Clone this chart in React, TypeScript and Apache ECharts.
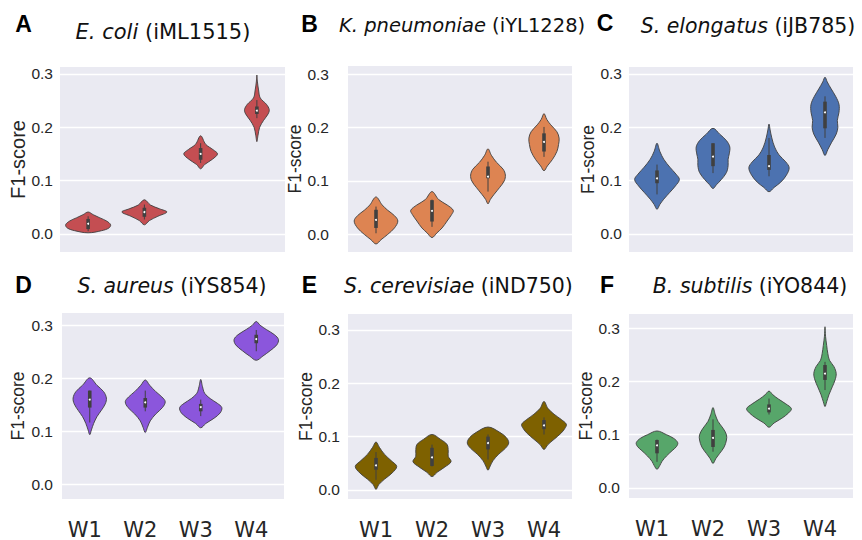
import React, { useEffect, useRef } from "react";
import * as echarts from "echarts";

const categories = ["W1", "W2", "W3", "W4"];

// Violin outlines per category: [F1-score value, half-width as fraction of category band]
const ecoliShapes = [
  [[0.002, 0], [0.006, 0.24], [0.011, 0.37], [0.017, 0.4], [0.024, 0.33], [0.03, 0.21], [0.036, 0.09], [0.041, 0]],
  [[0.017, 0], [0.025, 0.09], [0.033, 0.24], [0.041, 0.4], [0.047, 0.27], [0.054, 0.11], [0.064, 0]],
  [[0.122, 0], [0.13, 0.07], [0.14, 0.21], [0.15, 0.3], [0.158, 0.22], [0.168, 0.09], [0.184, 0]],
  [[0.173, 0], [0.185, 0.02], [0.2, 0.05], [0.213, 0.12], [0.225, 0.2], [0.233, 0.22], [0.243, 0.17], [0.255, 0.06], [0.27, 0.03], [0.285, 0.01], [0.298, 0]],
];
// Inner boxes: [whisker low, q1, median, q3, whisker high]
const ecoliBoxes = [
  [0.005, 0.009, 0.019, 0.028, 0.033],
  [0.027, 0.032, 0.041, 0.049, 0.055],
  [0.133, 0.139, 0.15, 0.161, 0.17],
  [0.217, 0.225, 0.231, 0.239, 0.251],
];

const kpneuShapes = [
  [[-0.018, 0], [-0.01, 0.09], [0.0, 0.21], [0.012, 0.33], [0.025, 0.39], [0.035, 0.33], [0.045, 0.21], [0.055, 0.11], [0.07, 0]],
  [[-0.006, 0], [0.003, 0.09], [0.012, 0.18], [0.025, 0.27], [0.037, 0.35], [0.045, 0.38], [0.055, 0.27], [0.065, 0.12], [0.08, 0]],
  [[0.057, 0], [0.065, 0.04], [0.075, 0.11], [0.088, 0.21], [0.1, 0.29], [0.111, 0.31], [0.122, 0.27], [0.135, 0.15], [0.148, 0.06], [0.16, 0]],
  [[0.119, 0], [0.128, 0.06], [0.14, 0.15], [0.155, 0.23], [0.168, 0.26], [0.18, 0.27], [0.192, 0.23], [0.205, 0.12], [0.215, 0.05], [0.226, 0]],
];
const kpneuBoxes = [
  [0.002, 0.012, 0.027, 0.046, 0.052],
  [0.014, 0.024, 0.044, 0.064, 0.065],
  [0.08, 0.105, 0.108, 0.127, 0.136],
  [0.145, 0.155, 0.173, 0.189, 0.201],
];

const selongShapes = [
  [[0.046, 0], [0.055, 0.05], [0.065, 0.12], [0.078, 0.23], [0.09, 0.33], [0.102, 0.4], [0.112, 0.34], [0.125, 0.23], [0.14, 0.12], [0.155, 0.05], [0.17, 0]],
  [[0.085, 0], [0.092, 0.06], [0.102, 0.15], [0.115, 0.24], [0.128, 0.27], [0.14, 0.27], [0.15, 0.29], [0.163, 0.3], [0.175, 0.24], [0.187, 0.12], [0.198, 0]],
  [[0.079, 0], [0.087, 0.09], [0.097, 0.21], [0.11, 0.31], [0.124, 0.36], [0.135, 0.3], [0.148, 0.18], [0.163, 0.1], [0.18, 0.05], [0.195, 0.02], [0.206, 0]],
  [[0.147, 0], [0.158, 0.05], [0.172, 0.12], [0.187, 0.2], [0.2, 0.23], [0.213, 0.22], [0.228, 0.25], [0.243, 0.25], [0.258, 0.19], [0.272, 0.11], [0.285, 0.04], [0.294, 0]],
];
const selongBoxes = [
  [0.074, 0.095, 0.104, 0.119, 0.13],
  [0.114, 0.127, 0.145, 0.17, 0.17],
  [0.108, 0.12, 0.127, 0.148, 0.18],
  [0.18, 0.198, 0.228, 0.248, 0.258],
];

const saureusShapes = [
  [[0.094, 0], [0.103, 0.03], [0.115, 0.07], [0.128, 0.13], [0.14, 0.21], [0.152, 0.28], [0.163, 0.3], [0.175, 0.25], [0.187, 0.13], [0.201, 0]],
  [[0.098, 0], [0.108, 0.04], [0.12, 0.09], [0.133, 0.19], [0.145, 0.31], [0.156, 0.36], [0.165, 0.3], [0.175, 0.19], [0.187, 0.08], [0.197, 0]],
  [[0.107, 0], [0.115, 0.09], [0.125, 0.24], [0.135, 0.35], [0.145, 0.38], [0.153, 0.3], [0.162, 0.17], [0.172, 0.07], [0.185, 0.03], [0.198, 0]],
  [[0.234, 0], [0.242, 0.12], [0.252, 0.25], [0.263, 0.37], [0.273, 0.4], [0.282, 0.33], [0.292, 0.18], [0.3, 0.07], [0.307, 0]],
];
const saureusBoxes = [
  [0.117, 0.145, 0.16, 0.177, 0.177],
  [0.138, 0.145, 0.155, 0.163, 0.177],
  [0.129, 0.138, 0.146, 0.152, 0.16],
  [0.251, 0.266, 0.274, 0.282, 0.291],
];

const scerevShapes = [
  [[0.001, 0], [0.01, 0.05], [0.02, 0.15], [0.032, 0.29], [0.044, 0.37], [0.055, 0.27], [0.067, 0.15], [0.08, 0.06], [0.09, 0]],
  [[0.025, 0], [0.033, 0.09], [0.043, 0.23], [0.053, 0.34], [0.063, 0.29], [0.073, 0.29], [0.085, 0.27], [0.095, 0.15], [0.104, 0]],
  [[0.037, 0], [0.045, 0.04], [0.055, 0.09], [0.067, 0.19], [0.078, 0.31], [0.088, 0.37], [0.098, 0.33], [0.108, 0.21], [0.118, 0]],
  [[0.076, 0], [0.085, 0.07], [0.095, 0.18], [0.106, 0.3], [0.115, 0.37], [0.123, 0.4], [0.132, 0.31], [0.142, 0.18], [0.153, 0.07], [0.166, 0]],
];
const scerevBoxes = [
  [0.019, 0.038, 0.046, 0.06, 0.071],
  [0.044, 0.045, 0.061, 0.079, 0.085],
  [0.057, 0.076, 0.088, 0.1, 0.104],
  [0.104, 0.114, 0.121, 0.131, 0.136],
];

const bsubtShapes = [
  [[0.035, 0], [0.042, 0.05], [0.05, 0.09], [0.06, 0.17], [0.07, 0.27], [0.078, 0.35], [0.085, 0.37], [0.093, 0.3], [0.1, 0.17], [0.107, 0]],
  [[0.046, 0], [0.055, 0.05], [0.065, 0.12], [0.077, 0.2], [0.09, 0.24], [0.1, 0.24], [0.112, 0.18], [0.125, 0.09], [0.138, 0.04], [0.151, 0]],
  [[0.114, 0], [0.122, 0.09], [0.131, 0.23], [0.141, 0.35], [0.149, 0.4], [0.158, 0.3], [0.167, 0.17], [0.175, 0.07], [0.182, 0]],
  [[0.153, 0], [0.162, 0.03], [0.175, 0.07], [0.19, 0.13], [0.203, 0.18], [0.215, 0.2], [0.228, 0.16], [0.24, 0.08], [0.253, 0.05], [0.268, 0.03], [0.285, 0.01], [0.303, 0]],
];
const bsubtBoxes = [
  [0.049, 0.065, 0.08, 0.09, 0.091],
  [0.068, 0.077, 0.094, 0.109, 0.129],
  [0.138, 0.142, 0.149, 0.157, 0.168],
  [0.184, 0.203, 0.215, 0.231, 0.237],
];

const panels = [
  { letter: "A", species: "E. coli", model: " (iML1515)", shapes: ecoliShapes, boxes: ecoliBoxes, color: "#c44e52",
    grid: { left: 60, top: 67, width: 225, height: 185 }, ymin: -0.034, ymax: 0.313,
    labelMargin: 7, nameGap: 28, nameSize: 20, title: { x: 163, y: 32, align: "center", size: 21 }, letterPos: [23.5, 24], xLabels: false, xPad: 0 },
  { letter: "B", species: "K. pneumoniae", model: " (iYL1228)", shapes: kpneuShapes, boxes: kpneuBoxes, color: "#dd8452",
    grid: { left: 348, top: 66, width: 224, height: 186 }, ymin: -0.033, ymax: 0.315,
    labelMargin: 19, nameGap: 42, nameSize: 17.5, title: { x: 339, y: 25, align: "left", size: 19.5 }, letterPos: [309.5, 24], xLabels: false, xPad: 0 },
  { letter: "C", species: "S. elongatus", model: " (iJB785)", shapes: selongShapes, boxes: selongBoxes, color: "#4c72b0",
    grid: { left: 629, top: 67, width: 224, height: 185 }, ymin: -0.034, ymax: 0.313,
    labelMargin: 7, nameGap: 32, nameSize: 17.5, title: { x: 748, y: 26, align: "center", size: 20.5 }, letterPos: [605, 23], xLabels: false, xPad: 0 },
  { letter: "D", species: "S. aureus", model: " (iYS854)", shapes: saureusShapes, boxes: saureusBoxes, color: "#8b56dc",
    grid: { left: 62, top: 313, width: 222, height: 187 }, ymin: -0.027, ymax: 0.323,
    labelMargin: 9, nameGap: 35, nameSize: 17.5, title: { x: 172, y: 286, align: "center", size: 20.5 }, letterPos: [23.5, 285], xLabels: true, xPad: 10 },
  { letter: "E", species: "S. cerevisiae", model: " (iND750)", shapes: scerevShapes, boxes: scerevBoxes, color: "#7e6100",
    grid: { left: 348, top: 314, width: 224, height: 185 }, ymin: -0.017, ymax: 0.33,
    labelMargin: 8, nameGap: 33, nameSize: 17.5, title: { x: 344, y: 286, align: "left", size: 20.5 }, letterPos: [309.5, 285], xLabels: true, xPad: 0 },
  { letter: "F", species: "B. subtilis", model: " (iYO844)", shapes: bsubtShapes, boxes: bsubtBoxes, color: "#57a66a",
    grid: { left: 629, top: 314, width: 224, height: 184 }, ymin: -0.019, ymax: 0.327,
    labelMargin: 9, nameGap: 32, nameSize: 17.5, title: { x: 750, y: 286, align: "center", size: 20.5 }, letterPos: [607, 285], xLabels: true, xPad: 10 },
];

const INK = "#404040";
const TEXT = "#262626";

function isTick(v: number) {
  return Math.abs(v * 10 - Math.round(v * 10)) < 1e-6;
}

export default function App() {
  const ref = useRef<HTMLDivElement>(null);

  useEffect(() => {
    if (!ref.current) return;
    const chart = echarts.init(ref.current, undefined, { renderer: "svg" });

    const grid = panels.map((p) => ({
      ...p.grid,
      show: true,
      backgroundColor: "#eaeaf2",
      borderWidth: 0,
      containLabel: false,
    }));

    const xAxis = panels.map((p, k) => ({
      type: "category",
      gridIndex: k,
      data: categories,
      boundaryGap: true,
      axisLine: { show: false },
      axisTick: { show: false },
      splitLine: { show: false },
      axisLabel: {
        show: p.xLabels,
        margin: 20,
        fontFamily: "DejaVu Sans",
        fontSize: 21,
        color: TEXT,
        padding: [0, p.xPad, 0, 0],
      },
    }));

    const yAxis = panels.map((p, k) => ({
      type: "value",
      gridIndex: k,
      min: p.ymin,
      max: p.ymax,
      splitNumber: 3,
      minInterval: 0.1,
      maxInterval: 0.1,
      axisLine: { show: false },
      axisTick: { show: false },
      axisLabel: {
        margin: p.labelMargin,
        fontFamily: "Liberation Sans",
        fontSize: 15.5,
        color: TEXT,
        formatter: (v: number) => (isTick(v) ? Math.abs(v).toFixed(1) : ""),
      },
      splitLine: {
        show: true,
        showMinLine: false,
        showMaxLine: false,
        lineStyle: { color: "#ffffff", width: 1.3 },
      },
      name: "F1-score",
      nameLocation: "middle",
      nameRotate: 90,
      nameGap: p.nameGap,
      nameTextStyle: { fontFamily: "Liberation Sans", fontSize: p.nameSize, color: TEXT },
    }));

    const series = panels.map((p, k) => ({
      type: "custom",
      xAxisIndex: k,
      yAxisIndex: k,
      clip: false,
      encode: { x: 0, y: 1 },
      data: categories.map((_, i) => [i, 0]),
      renderItem: (params: any, api: any) => {
        const i = api.value(0);
        const prof = p.shapes[i];
        const box = p.boxes[i];
        const band = api.size([1, 0])[0];
        const cx = api.coord([i, 0])[0];
        const yOf = (v: number) => api.coord([i, v])[1];
        const right = prof.map(([v, w]) => [cx + w * band, yOf(v)]);
        const left = prof
          .slice()
          .reverse()
          .map(([v, w]) => [cx - w * band, yOf(v)]);
        const pts = right.concat(left.slice(1, -1));
        const [wl, q1, med, q3, wh] = box;
        return {
          type: "group",
          children: [
            {
              type: "polygon",
              shape: { points: pts, smooth: 0.35 },
              style: { fill: p.color, stroke: INK, lineWidth: 0.9 },
            },
            {
              type: "line",
              shape: { x1: cx, y1: yOf(wl), x2: cx, y2: yOf(wh) },
              style: { stroke: INK, lineWidth: 1 },
            },
            {
              type: "rect",
              shape: { x: cx - 1.8, y: yOf(q3), width: 3.6, height: yOf(q1) - yOf(q3) },
              style: { fill: INK },
            },
            {
              type: "circle",
              shape: { cx, cy: yOf(med), r: 1.0 },
              style: { fill: "#ffffff" },
            },
          ],
        };
      },
    }));

    const graphic: any[] = [];
    panels.forEach((p) => {
      graphic.push({
        type: "text",
        x: p.letterPos[0],
        y: p.letterPos[1],
        style: {
          text: p.letter,
          fontFamily: "Liberation Sans",
          fontWeight: "bold",
          fontSize: 23,
          fill: "#000000",
          align: "center",
          verticalAlign: "middle",
        },
      });
      graphic.push({
        type: "text",
        x: p.title.x,
        y: p.title.y,
        style: {
          text: "{it|" + p.species + "}" + p.model,
          fontFamily: "DejaVu Sans",
          fontSize: p.title.size,
          fill: "#111111",
          align: p.title.align,
          verticalAlign: "middle",
          rich: {
            it: {
              fontFamily: "DejaVu Sans",
              fontStyle: "italic",
              fontSize: p.title.size,
              fill: "#111111",
              color: "#111111",
            },
          },
        },
      });
    });

    chart.setOption({
      animation: false,
      backgroundColor: "#ffffff",
      grid,
      xAxis,
      yAxis,
      series,
      graphic,
    });

    return () => chart.dispose();
  }, []);

  return (
    <div
      ref={ref}
      style={{ position: "absolute", left: 0, top: 0, width: 862, height: 540 }}
    />
  );
}
